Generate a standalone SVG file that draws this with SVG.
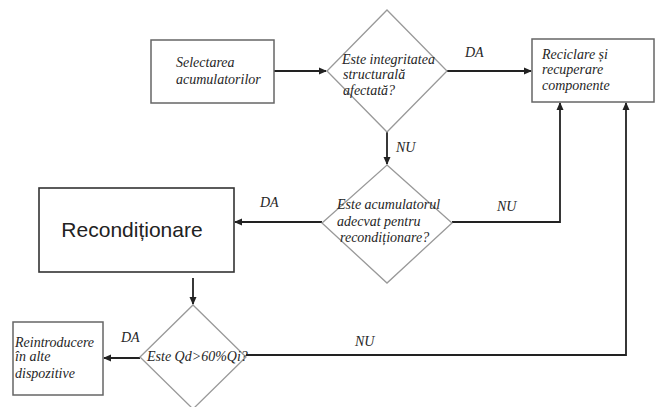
<svg xmlns="http://www.w3.org/2000/svg" width="655" height="407" viewBox="0 0 655 407">
<style>
.box{fill:#fff;stroke:#666;stroke-width:1.5}
.dbox{fill:#fff;stroke:#333;stroke-width:1.6}
.dia{fill:#fff;stroke:#999;stroke-width:1.3}
.t,.lbl{font-family:'Liberation Serif','Times New Roman','DejaVu Serif',serif;font-style:italic;font-size:14px;fill:#262626}
.big{font-family:'Liberation Sans',Arial,sans-serif;font-size:21px;fill:#222}
.c{fill:none;stroke:#222;stroke-width:1.8}
</style>
<defs>
<marker id="ah" markerWidth="8" markerHeight="8" refX="7" refY="4" orient="auto" markerUnits="userSpaceOnUse">
<path d="M0,0.5 L8,4 L0,7.5 z" fill="#222"/>
</marker>
</defs>
<rect width="655" height="407" fill="#fff"/>
<g id="connectors">
<line class="c" x1="274" y1="71" x2="326" y2="71" marker-end="url(#ah)"/>
<line class="c" x1="447" y1="71" x2="531" y2="71" marker-end="url(#ah)"/>
<line class="c" x1="387" y1="131" x2="387" y2="164" marker-end="url(#ah)"/>
<polyline class="c" points="452,222 560,222 560,103" marker-end="url(#ah)"/>
<line class="c" x1="322" y1="222" x2="235" y2="222" marker-end="url(#ah)"/>
<line class="c" x1="193" y1="278" x2="193" y2="304" marker-end="url(#ah)"/>
<line class="c" x1="140" y1="358" x2="104" y2="358" marker-end="url(#ah)"/>
<polyline class="c" points="246,355 626,355 626,103" marker-end="url(#ah)"/>
<text class="lbl" x="465" y="57">DA</text>
<text class="lbl" x="396" y="152">NU</text>
<text class="lbl" x="497" y="211">NU</text>
<text class="lbl" x="260" y="207">DA</text>
<text class="lbl" x="121" y="342">DA</text>
<text class="lbl" x="355" y="346">NU</text>
</g>
<g id="n-selectarea">
<rect class="box" x="151" y="40" width="123" height="63"/>
<text class="t" x="176" y="67">Selectarea</text>
<text class="t" x="176" y="84">acumulatorilor</text>
</g>
<g id="n-integritate">
<polygon class="dia" points="387,10 447,71 387,132 327,71"/>
<text class="t" x="342" y="64">Este integritatea</text>
<text class="t" x="343" y="79">structurală</text>
<text class="t" x="343" y="95">afectată?</text>
</g>
<g id="n-reciclare">
<rect class="box" x="532" y="39" width="122" height="63"/>
<text class="t" x="542" y="59">Reciclare și</text>
<text class="t" x="542" y="74">recuperare</text>
<text class="t" x="542" y="90">componente</text>
</g>
<g id="n-adecvat">
<polygon class="dia" points="387,165 452,223 387,283 322,223"/>
<text class="t" x="337" y="209">Este acumulatorul</text>
<text class="t" x="337" y="226">adecvat pentru</text>
<text class="t" x="340" y="242">recondiționare?</text>
</g>
<g id="n-reconditionare">
<rect class="dbox" x="39" y="188" width="195" height="84"/>
<text class="big" x="132" y="237" text-anchor="middle">Recondiționare</text>
</g>
<g id="n-qd">
<polygon class="dia" points="193,305 246,357 193,409 140,357"/>
<text class="t" x="147" y="361">Este Qd&gt;60%Qi?</text>
</g>
<g id="n-reintroducere">
<rect class="box" x="13" y="322" width="90" height="73"/>
<text class="t" x="15" y="347">Reintroducere</text>
<text class="t" x="15" y="361">în alte</text>
<text class="t" x="15" y="378">dispozitive</text>
</g>
</svg>
